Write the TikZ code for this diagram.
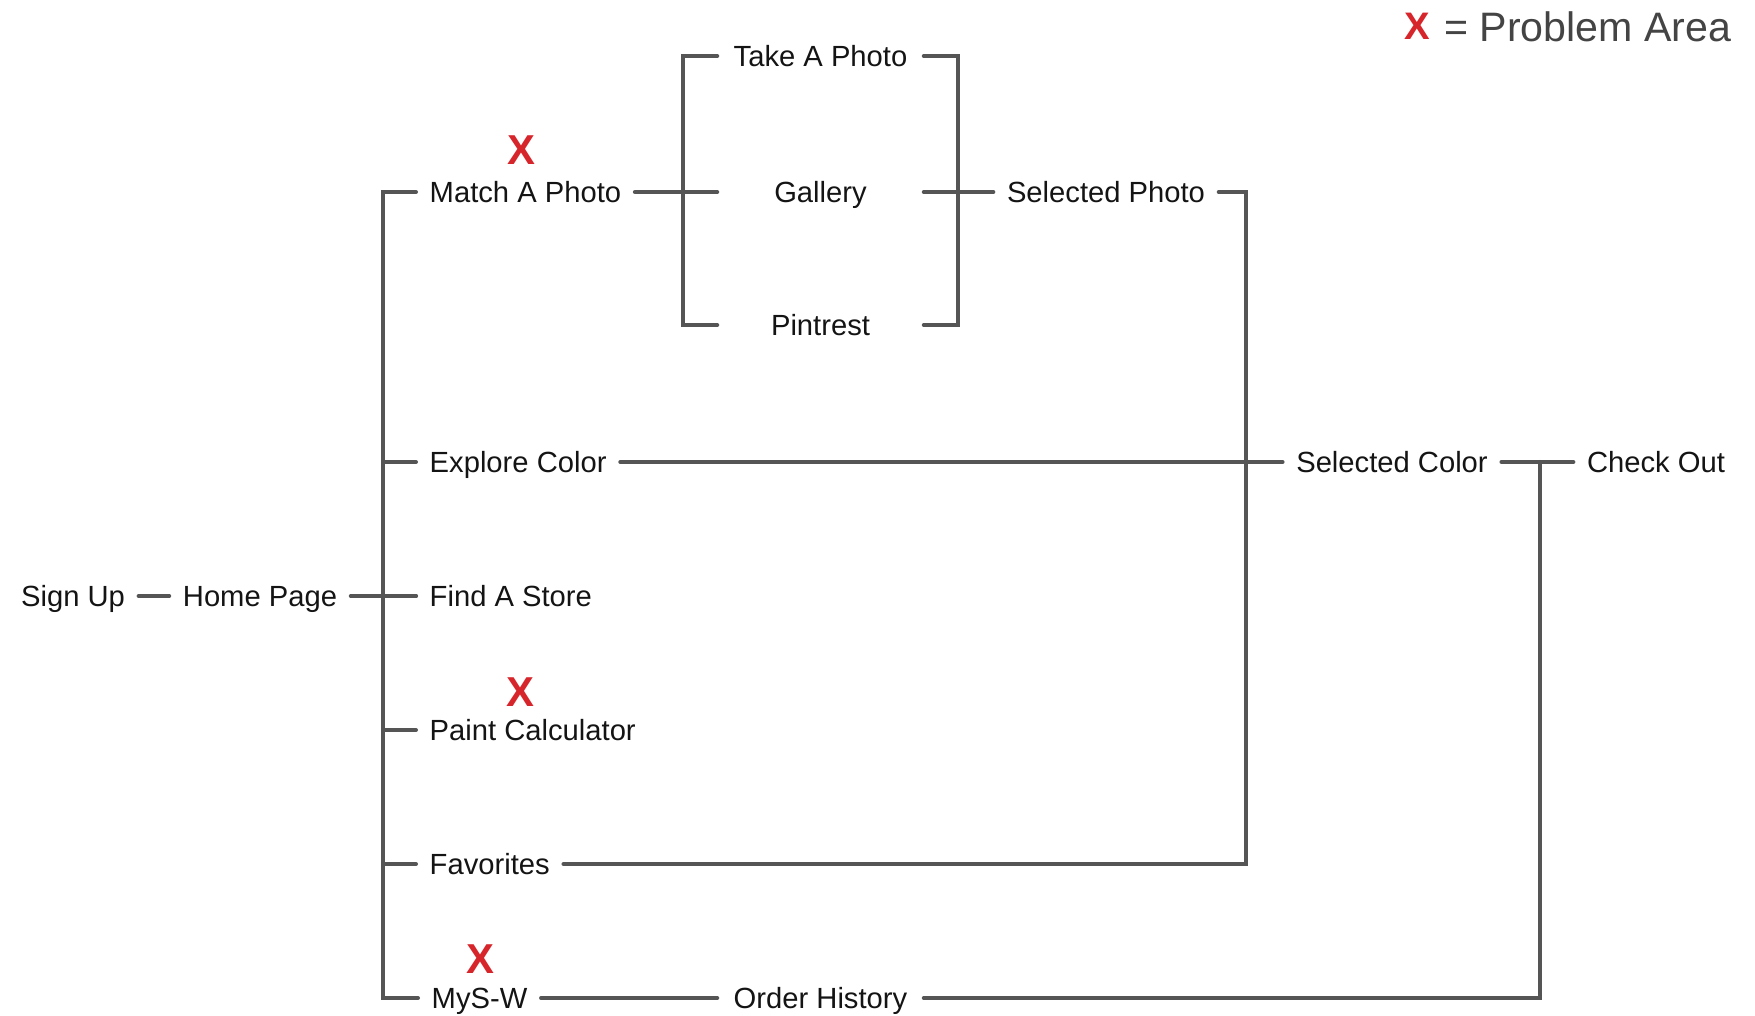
\documentclass[tikz,border=0pt]{standalone}
\usepackage{fontspec}
\setmainfont{Liberation Sans}
\usetikzlibrary{positioning}
\definecolor{wire}{HTML}{555555}
\definecolor{probred}{HTML}{D7262B}
\definecolor{keygray}{HTML}{444444}
\tikzset{
  lbl/.style    ={font=\fontsize{8.3}{10}\selectfont, text=black!92,
                  inner xsep=0.13cm, inner ysep=0pt,
                  text height=0.21cm, text depth=0pt},
  colbox/.style ={lbl, minimum width=2.05cm, inner xsep=0pt},
  prob/.style   ={font=\fontsize{11.9}{14}\selectfont\bfseries,
                  text=probred, inner sep=0pt},
  keyx/.style   ={font=\fontsize{10.9}{13}\selectfont\bfseries,
                  text=probred, inner sep=0pt},
  keylbl/.style ={font=\fontsize{11.7}{14}\selectfont, text=keygray,
                  inner sep=0pt},
  link/.style   ={line width=1.14pt, draw=wire, line cap=round},
}

\begin{document}
\begin{tikzpicture}[x=0.01cm, y=-0.01cm]
\useasboundingbox (0,0) rectangle (1755,1016);
\coordinate (spine) at (383,0);
\coordinate (lbr) at (683,0);
\coordinate (rbr) at (958,0);
\coordinate (fbr) at (1246,0);
\coordinate (cbr) at (1540,0);
\node[lbl] (sign) at (73,596) {Sign Up};
\node[lbl] (home) at (260,596) {Home Page};
\node[lbl, anchor=west] (match) at (416,192) {Match A Photo};
\node[lbl, anchor=west] (explore) at (416,462) {Explore Color};
\node[lbl, anchor=west] (store) at (416,596) {Find A Store};
\node[lbl, anchor=west] (paint) at (416,730) {Paint Calculator};
\node[lbl, anchor=west] (fav) at (416,864) {Favorites};
\node[lbl, anchor=west] (mysw) at (418,998) {MyS-W};
\node[colbox] (take) at (820.5,56) {Take A Photo};
\node[colbox] (gallery) at (820.5,192) {Gallery};
\node[colbox] (pin) at (820.5,325) {Pintrest};
\node[colbox] (order) at (820.5,998) {Order History};
\node[lbl] (selphoto) at (1106,192) {Selected Photo};
\node[lbl] (selcolor) at (1392,462) {Selected Color};
\node[lbl] (checkout) at (1656,462) {Check Out};
\node[prob] (xmatch) at (521,150) {X};
\node[prob] (xpaint) at (520,692) {X};
\node[prob] (xmysw) at (480,959) {X};
\node[keyx] (xkey) at (1417,26) {X};
\node[keylbl, anchor=east] (key) at (1732,27) {= Problem Area};
\draw[link] (sign) -- (home);
\draw[link] (home) -- (store);
\draw[link] (match.west) -| (mysw.west -| spine) -- (mysw.west);
\foreach \n in {explore,store,paint,fav}
  \draw[link] (\n.west) -- (\n.west -| spine);
\draw[link] (match) -- (gallery);
\draw[link] (take.west) -| (pin.west -| lbr) -- (pin.west);
\draw[link] (take.east) -| (pin.east -| rbr) -- (pin.east);
\draw[link] (gallery) -- (selphoto);
\draw[link] (selphoto.east) -| (fav.east -| fbr) -- (fav.east);
\draw[link] (explore) -- (selcolor);
\draw[link] (selcolor) -- (checkout);
\draw[link] (selcolor.east -| cbr) |- (order.east);
\draw[link] (mysw) -- (order);
\end{tikzpicture}
\end{document}
